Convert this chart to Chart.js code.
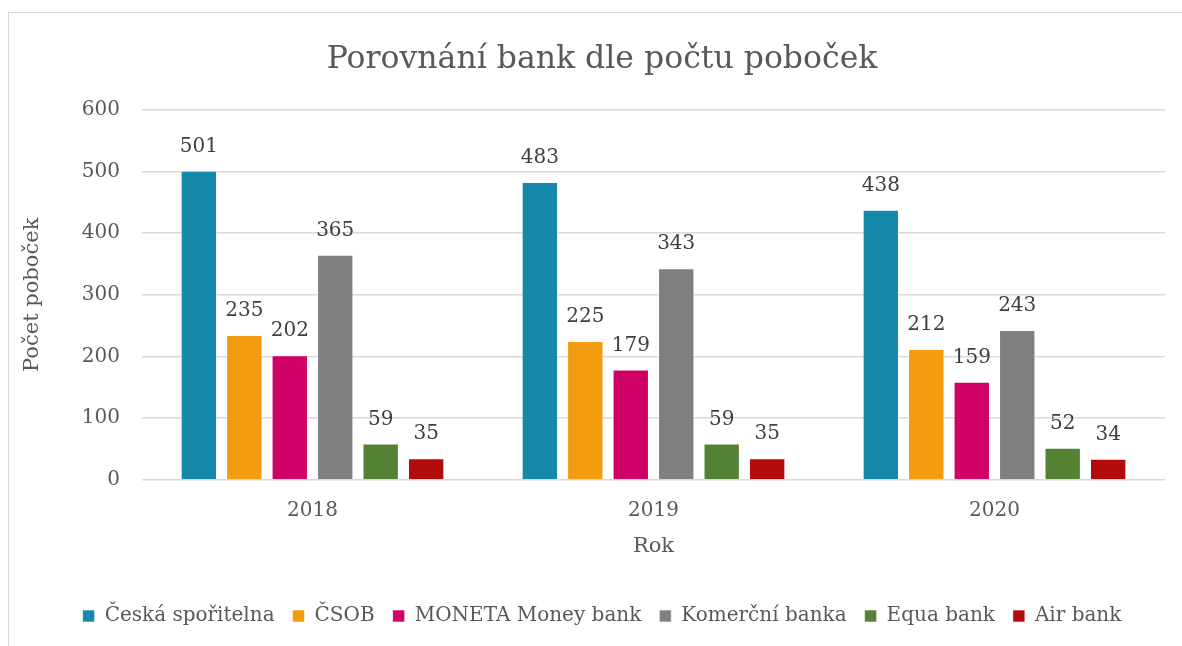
<!DOCTYPE html>
<html>
<head>
<meta charset="utf-8">
<script src="https://cdn.jsdelivr.net/npm/chart.js@4.4.0/dist/chart.umd.min.js"></script>
<style>
  body { margin: 0; background: #fff; overflow: hidden; }
  #frame { position: absolute; left: 8px; top: 12px; width: 1200px; height: 660px; border: 1px solid #d9d9d9; }
  #wrap { position: absolute; left: 0; top: 0; width: 1210px; height: 646px; }
</style>
</head>
<body>
<div id="frame"></div>
<div id="wrap"><canvas id="canvas"></canvas></div>
<script>
const years = ['2018', '2019', '2020'];
const banks = ['Česká spořitelna', 'ČSOB', 'MONETA Money bank', 'Komerční banka', 'Equa bank', 'Air bank'];
const sporitelna = [501, 483, 438];
const csob = [235, 225, 212];
const moneta = [202, 179, 159];
const komercni = [365, 343, 243];
const equa = [59, 59, 52];
const airbank = [35, 35, 34];
const colors = ['#1689ab', '#f39c0f', '#cf0066', '#808080', '#548235', '#b20b0b'];
const yTicks = [0, 100, 200, 300, 400, 500, 600];

const font = 'DejaVu Serif';
const textColor = '#595959';

// value labels above the bars
const barValues = {
    id: 'barValues',
    afterDatasetsDraw(chart) {
        const ctx = chart.ctx;
        ctx.save();
        ctx.font = '20px "' + font + '"';
        ctx.fillStyle = '#404040';
        ctx.textAlign = 'center';
        ctx.textBaseline = 'middle';
        chart.data.datasets.forEach((ds, i) => {
            chart.getDatasetMeta(i).data.forEach((bar, j) => {
                ctx.fillText(ds.data[j], bar.x, bar.y - 24);
            });
        });
        ctx.restore();
    }
};

let ctx = document.getElementById('canvas').getContext('2d');
let chart = new Chart(ctx, {
    type: 'bar',
    data: {
        labels: years,
        datasets: [sporitelna, csob, moneta, komercni, equa, airbank].map((d, i) => ({
            label: banks[i],
            data: d,
            backgroundColor: colors[i],
            borderColor: 'rgba(255,255,255,0.6)',
            borderWidth: 1,
            categoryPercentage: 0.8,
            barPercentage: 0.8
        }))
    },
    options: {
        responsive: true,
        maintainAspectRatio: false,
        animation: false,
        layout: { padding: { left: 8, right: 14, top: 0, bottom: 10 } },
        plugins: {
            title: {
                display: true,
                text: 'Porovnání bank dle počtu poboček',
                color: textColor,
                font: { family: font, size: 31.5, weight: 'normal' },
                padding: { top: 41, bottom: 31 }
            },
            legend: {
                position: 'bottom',
                labels: {
                    color: textColor,
                    font: { family: font, size: 20 },
                    boxWidth: 12,
                    boxHeight: 12,
                    padding: 18
                }
            },
            tooltip: { enabled: false }
        },
        scales: {
            x: {
                grid: { display: false },
                border: { display: false },
                ticks: { color: textColor, font: { family: font, size: 20 }, padding: 11 },
                title: {
                    display: true,
                    text: 'Rok',
                    color: textColor,
                    font: { family: font, size: 21 },
                    padding: { top: 0, bottom: 29 }
                }
            },
            y: {
                min: 0,
                max: 600,
                afterBuildTicks(scale) { scale.ticks = yTicks.map(v => ({ value: v })); },
                afterFit(scale) { scale.width = 134; },
                grid: { color: '#d9d9d9', lineWidth: 1.5, drawTicks: false },
                border: { display: false },
                ticks: { color: textColor, font: { family: font, size: 20 }, padding: 22 },
                title: {
                    display: true,
                    text: 'Počet poboček',
                    color: textColor,
                    font: { family: font, size: 21 },
                    padding: { top: 12, bottom: 0 }
                }
            },
            y2: {
                position: 'right',
                display: true,
                grid: { display: false },
                border: { display: false },
                ticks: { display: false },
                afterFit(scale) { scale.width = 31; }
            }
        }
    },
    plugins: [barValues]
});
</script>
</body>
</html>
